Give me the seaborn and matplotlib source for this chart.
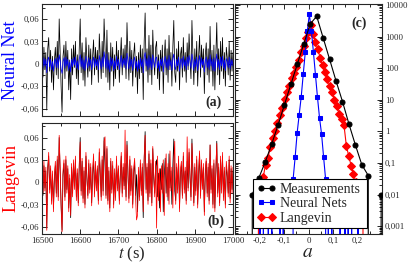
import numpy as np
import matplotlib
matplotlib.use('Agg')
import matplotlib.pyplot as plt
import seaborn as sns
from matplotlib.ticker import FixedLocator, FixedFormatter, MultipleLocator, LogLocator, NullFormatter

sns.set_style('ticks')
plt.rcParams['font.family'] = ['Liberation Serif', 'DejaVu Serif']
plt.rcParams['mathtext.fontset'] = 'stix'

# ---------------- data ----------------
t_start, t_end = 16500, 17000

meas_series = [
    0.012, -0.018, 0.022, -0.008, 0.015, -0.062, 0.02, 0.035, -0.01, 0.018, -0.025, 0.01, -0.035, 0.005, 0.022, -0.015, 0.03, -0.02, 0.06, 0.015,
    -0.03, -0.065, 0.01, 0.025, -0.02, 0.03, -0.01, 0.018, -0.035, 0.005, -0.048, 0.02, -0.015, 0.025, -0.005, 0.03, -0.02, 0.012, -0.028, 0.02,
    0.06, -0.012, 0.028, -0.022, 0.015, -0.03, 0.035, 0.005, -0.018, 0.025, -0.01, 0.02, -0.028, 0.01, 0.032, -0.015, 0.022, -0.008, 0.018, -0.025,
    0.04, 0.01, -0.02, 0.03, -0.012, 0.06, 0.02, -0.018, 0.045, -0.025, 0.015, -0.035, 0.028, -0.01, 0.022, -0.03, 0.012, -0.02, 0.03, -0.008,
    0.018, -0.025, 0.008, 0.035, -0.015, 0.02, -0.005, 0.025, -0.02, 0.055, 0.01, -0.022, 0.03, -0.012, 0.018, -0.03, 0.012, 0.028, -0.018, 0.01,
    -0.04, 0.015, -0.02, 0.025, -0.012, 0.02, -0.048, 0.03, 0.068, -0.01, 0.02, -0.025, 0.038, -0.015, 0.025, -0.028, 0.045, 0.005, -0.015, 0.022,
    0.03, -0.02, 0.012, -0.035, 0.018, -0.01, 0.025, -0.04, 0.008, 0.032, -0.015, 0.02, -0.025, 0.038, -0.008, 0.015, -0.03, 0.022, 0.058, -0.012,
    -0.025, 0.02, -0.01, 0.03, -0.035, 0.012, 0.022, -0.018, 0.035, -0.01, 0.015, -0.025, 0.028, -0.008, 0.04, 0.005, -0.02, 0.058, 0.012, -0.028,
    0.02, -0.012, 0.03, -0.03, 0.01, 0.038, -0.018, 0.025, -0.005, 0.02, -0.04, 0.012, 0.028, -0.015, 0.02, -0.025, 0.05, -0.01, 0.018, -0.03,
    0.025, -0.035, 0.012, 0.055, -0.015, 0.02, -0.028, 0.03, -0.01, 0.035, -0.02, 0.015, -0.03, 0.022, 0.008, -0.015, 0.03, -0.022, 0.018, -0.01,
    0.015]

nn_series = [
    0.004, -0.006, 0.008, -0.003, 0.006, -0.012, 0.005, 0.009, -0.004, 0.006, -0.008, 0.003, -0.01, 0.002, 0.007, -0.005, 0.008, -0.006, 0.012, 0.004,
    -0.007, -0.013, 0.003, 0.008, -0.006, 0.009, -0.003, 0.006, -0.009, 0.002, -0.011, 0.006, -0.004, 0.008, -0.002, 0.009, -0.006, 0.004, -0.008, 0.006,
    0.012, -0.004, 0.008, -0.007, 0.005, -0.009, 0.01, 0.002, -0.006, 0.008, -0.003, 0.006, -0.008, 0.003, 0.009, -0.005, 0.007, -0.003, 0.006, -0.008,
    0.011, 0.003, -0.007, 0.009, -0.004, 0.016, 0.006, -0.006, 0.013, -0.008, 0.005, -0.011, 0.009, -0.003, 0.007, -0.009, 0.004, -0.007, 0.01, -0.003,
    0.006, -0.008, 0.003, 0.011, -0.005, 0.007, -0.002, 0.008, -0.007, 0.014, 0.003, -0.007, 0.009, -0.004, 0.006, -0.009, 0.004, 0.009, -0.006, 0.003,
    -0.01, 0.005, -0.007, 0.008, -0.004, 0.006, -0.012, 0.009, 0.015, -0.003, 0.007, -0.008, 0.011, -0.005, 0.008, -0.008, 0.012, 0.002, -0.005, 0.007,
    0.009, -0.006, 0.004, -0.01, 0.006, -0.003, 0.008, -0.011, 0.003, 0.01, -0.005, 0.006, -0.008, 0.011, -0.003, 0.005, -0.009, 0.007, 0.013, -0.004,
    -0.008, 0.006, -0.003, 0.009, -0.01, 0.004, 0.007, -0.006, 0.01, -0.003, 0.005, -0.008, 0.009, -0.003, 0.011, 0.002, -0.006, 0.013, 0.004, -0.009,
    0.006, -0.004, 0.009, -0.009, 0.003, 0.011, -0.006, 0.008, -0.002, 0.006, -0.011, 0.004, 0.009, -0.005, 0.006, -0.008, 0.012, -0.003, 0.006, -0.009,
    0.008, -0.01, 0.004, 0.013, -0.005, 0.006, -0.008, 0.009, -0.003, 0.01, -0.006, 0.005, -0.009, 0.007, 0.003, -0.005, 0.009, -0.007, 0.006, -0.003,
    0.005]

lang_series = [
    0.018, -0.015, 0.028, -0.012, 0.02, -0.065, 0.015, 0.04, -0.015, 0.022, -0.03, 0.015, -0.04, 0.01, 0.028, -0.02, 0.035, -0.025, 0.063, 0.02,
    -0.035, -0.067, 0.015, 0.03, -0.025, 0.035, -0.015, 0.022, -0.04, 0.01, -0.045, 0.025, -0.02, 0.03, -0.01, 0.035, -0.025, 0.018, -0.032, 0.025,
    0.054, -0.018, 0.032, -0.028, 0.02, -0.035, 0.04, 0.01, -0.022, 0.03, -0.015, 0.025, -0.032, 0.015, 0.038, -0.02, 0.028, -0.012, 0.022, -0.03,
    0.045, 0.015, -0.025, 0.035, -0.018, 0.055, 0.061, -0.022, 0.048, -0.03, 0.02, -0.04, 0.032, -0.015, 0.028, -0.035, 0.018, -0.025, 0.035, -0.012,
    0.022, -0.03, 0.012, 0.04, -0.02, 0.025, -0.01, 0.07, -0.025, 0.05, 0.015, -0.028, 0.035, -0.018, 0.022, -0.035, 0.018, 0.032, -0.022, -0.051,
    -0.045, 0.02, -0.025, 0.03, -0.018, 0.025, -0.04, 0.035, 0.063, -0.015, 0.025, -0.03, 0.042, -0.02, 0.03, -0.032, 0.048, 0.01, -0.02, 0.028,
    -0.062, 0.035, -0.025, 0.018, -0.04, 0.022, -0.015, 0.03, -0.045, 0.012, 0.038, -0.02, 0.025, -0.03, 0.042, -0.012, 0.02, -0.035, 0.028, 0.055,
    -0.03, 0.025, -0.015, 0.035, -0.04, 0.018, 0.028, -0.022, 0.04, -0.015, 0.02, -0.03, 0.061, -0.012, 0.045, 0.01, -0.025, 0.052, 0.018, -0.032,
    0.025, -0.018, 0.035, -0.035, 0.015, 0.042, -0.022, 0.03, -0.01, 0.025, -0.045, 0.018, 0.032, -0.02, 0.025, -0.03, 0.05, -0.015, 0.022, -0.035,
    0.03, -0.04, 0.018, 0.052, -0.02, 0.025, -0.032, 0.035, -0.015, 0.04, -0.025, 0.02, -0.035, 0.028, 0.012, -0.02, 0.035, -0.028, 0.022, -0.015,
    0.02]

# distributions (panel c)
meas_a = [-0.282, -0.256, -0.2295, -0.2032, -0.1769, -0.1506, -0.1243, -0.098, -0.0717,
          -0.0454, -0.0191, 0.0072, 0.0335, 0.0598, 0.0861, 0.1124, 0.1387, 0.165,
          0.1913, 0.2176, 0.2439, 0.2702, 0.2965]
meas_p = [0, 0, 0.01, 0.033, 0.106, 0.39, 1.6, 7.1, 31.6,
          138, 610, 2570, 4500, 930, 194, 40, 8.9, 1.73,
          0.375, 0.088, 0.04, 0, 0.01]

nn_a = [-0.207, -0.198, -0.191, -0.184, -0.175, -0.164, -0.157, -0.150, -0.141,
        -0.123, -0.116, -0.109, -0.103, -0.095,
        -0.0712, -0.0629, -0.0546, -0.0463, -0.038, -0.0297, -0.0214, -0.0131, -0.0048,
        0.0035, 0.0118, 0.0201, 0.0284, 0.0367, 0.045, 0.0533, 0.0616, 0.0699, 0.0782,
        0.081, 0.088, 0.095, 0.103, 0.121, 0.129, 0.137, 0.143, 0.149, 0.155, 0.162,
        0.169, 0.176, 0.184, 0.195, 0.202, 0.21]
nn_p = [0, 0.002, 0, 0.002, 0, 0.002, 0, 0.002, 0,
        0, 0.002, 0, 0.002, 0,
        0, 0.03, 0.15, 0.91, 3.4, 12.6, 66, 330, 1510,
        5300, 1500, 330, 62, 12, 2.7, 0.83, 0.155, 0.03, 0,
        0.002, 0, 0.002, 0, 0, 0.002, 0, 0, 0.002, 0, 0.002,
        0, 0.002, 0, 0, 0.002, 0]

lang_a = [-0.2141, -0.2044, -0.1947, -0.185, -0.1753, -0.1656, -0.1559, -0.1462, -0.1365,
          -0.1268, -0.1171, -0.1074, -0.0977, -0.088, -0.0783, -0.0686, -0.0589, -0.0492,
          -0.0395, -0.0298, -0.0201, -0.0104, -0.0007, 0.009, 0.0187, 0.0284, 0.0381,
          0.0478, 0.0575, 0.0672, 0.0769, 0.0866, 0.0963, 0.106, 0.1157, 0.1254, 0.1351,
          0.1448, 0.1545, 0.1642, 0.1739, 0.1836, 0.1933, 0.203, 0.2127, 0.2224, 0.232]
lang_p = [0, 0.011, 0.02, 0.035, 0.089, 0.14, 0.32, 0.63, 1.05,
          1.8, 3.3, 5.6, 11, 17.8, 27.5, 50, 72, 112,
          182, 331, 525, 890, 1410, 2340, 1260, 708, 398,
          214, 126, 76, 46, 28, 17.8, 10, 6.3, 3.55, 2.5,
          1.6, 0.35, 0.166, 0.083, 0.045, 0.025, 0.014, 0.01, 0.009, 0]

ts_xticks = [16500, 16600, 16700, 16800, 16900, 17000]
ts_yticks = [-0.06, -0.03, 0, 0.03, 0.06]
ts_ylabels = ['-0,06', '-0,03', '0', '0,03', '0,06']
pdf_xticks = [-0.2, -0.1, 0, 0.1, 0.2]
pdf_xlabels = ['-0,2', '-0,1', '0', '0,1', '0,2']
pdf_yticks = [1e-3, 1e-2, 1e-1, 1, 10, 100, 1000, 10000]
pdf_ylabels = ['0,001', '0,01', '0,1', '1', '10', '100', '1000', '10000']

# ---------------- figure ----------------
W, H = 409, 265
fig = plt.figure(figsize=(W / 100, H / 100), dpi=100)
axA = fig.add_axes([42 / W, 1 - 116 / H, 191 / W, 112 / H])
axB = fig.add_axes([42 / W, 1 - 234 / H, 191 / W, 111.3 / H])
axC = fig.add_axes([235 / W, 1 - 234 / H, 147 / W, 230 / H])

t_meas = np.linspace(t_start, t_end, len(meas_series))
t_nn = np.linspace(t_start, t_end, len(nn_series))
t_lang = np.linspace(t_start, t_end, len(lang_series))

sns.lineplot(x=t_meas, y=meas_series, ax=axA, color='black', linewidth=0.55,
             estimator=None, sort=False)
sns.lineplot(x=t_nn, y=nn_series, ax=axA, color='#0000ff', linewidth=0.55,
             estimator=None, sort=False)
sns.lineplot(x=t_meas, y=meas_series, ax=axB, color='black', linewidth=0.55,
             estimator=None, sort=False)
sns.lineplot(x=t_lang, y=lang_series, ax=axB, color='#ff0000', linewidth=0.55,
             estimator=None, sort=False)

for ax in (axA, axB):
    ax.set_xlim(t_start, t_end)
    ax.set_ylim(-0.07, 0.08)
    ax.xaxis.set_major_locator(FixedLocator(ts_xticks))
    ax.xaxis.set_minor_locator(MultipleLocator(50))
    ax.yaxis.set_major_locator(FixedLocator(ts_yticks))
    ax.yaxis.set_major_formatter(FixedFormatter(ts_ylabels))
    ax.yaxis.set_minor_locator(MultipleLocator(0.015))
    ax.tick_params(which='both', direction='in', top=True, right=True, width=0.7,
                   labelsize=6.3, pad=2)
    ax.tick_params(which='major', length=3.5)
    ax.tick_params(which='minor', length=2)
    for s in ax.spines.values():
        s.set_linewidth(0.8)

axA.tick_params(labelbottom=False)
axA.set_xlabel('')
axB.set_xticklabels([str(v) for v in ts_xticks])

axA.set_ylabel('Neural Net', color='#0000ff', fontsize=13)
axA.yaxis.set_label_coords(-0.12, 0.5)
axB.set_ylabel('Langevin', color='#ff0000', fontsize=13)
axB.yaxis.set_label_coords(-0.12, 0.5)
axB.set_xlabel(r'$t$ (s)', fontsize=12)
axB.xaxis.set_label_coords(0.47, -0.1)

axA.text(0.9, 0.125, '(a)', transform=axA.transAxes, fontsize=10, fontweight='bold',
         ha='center', va='center')
axB.text(0.91, 0.11, '(b)', transform=axB.transAxes, fontsize=10, fontweight='bold',
         ha='center', va='center')

# panel c
sns.lineplot(x=meas_a, y=meas_p, ax=axC, color='black', linewidth=0.8, marker='o',
             markersize=3.6, markeredgecolor='black', estimator=None, sort=False,
             label='Measurements', zorder=4)
sns.lineplot(x=nn_a, y=nn_p, ax=axC, color='#0000ff', linewidth=0.8, marker='s',
             markersize=3, markeredgecolor='#0000ff', estimator=None, sort=False,
             label='Neural Nets', zorder=3)
sns.lineplot(x=lang_a, y=lang_p, ax=axC, color='#ff0000', linewidth=0.8, marker='D',
             markersize=4, markeredgecolor='#ff0000', estimator=None, sort=False,
             label='Langevin', zorder=2)

axC.set_yscale('log')
axC.set_xlim(-0.3, 0.3)
axC.set_ylim(5.6e-4, 1.1e4)
axC.xaxis.set_major_locator(FixedLocator(pdf_xticks))
axC.xaxis.set_major_formatter(FixedFormatter(pdf_xlabels))
axC.xaxis.set_minor_locator(MultipleLocator(0.05))
axC.yaxis.set_major_locator(FixedLocator(pdf_yticks))
axC.yaxis.set_major_formatter(FixedFormatter(pdf_ylabels))
axC.yaxis.set_minor_locator(LogLocator(base=10, subs=np.arange(2, 10), numticks=100))
axC.yaxis.set_minor_formatter(NullFormatter())
axC.tick_params(which='both', direction='in', top=True, right=True, left=True,
                labelleft=False, labelright=True, width=0.7, labelsize=6.3, pad=2)
axC.tick_params(which='major', length=3.5)
axC.tick_params(which='minor', length=2)
for s in axC.spines.values():
    s.set_linewidth(0.8)
axC.set_ylabel('')
axC.set_xlabel(r'$a$', fontsize=14)
axC.xaxis.set_label_coords(0.497, -0.045)
axC.text(0.844, 0.917, '(c)', transform=axC.transAxes, fontsize=10, fontweight='bold',
         ha='center', va='center')

handles, labels = axC.get_legend_handles_labels()
leg = axC.legend(handles, labels, loc='lower left',
                 bbox_to_anchor=(0.122, 0.026, 0.776, 0.239), mode='expand',
                 numpoints=2, fontsize=10, frameon=True, fancybox=False,
                 edgecolor='black', framealpha=1, borderpad=0.25, labelspacing=0.1,
                 handlelength=1.4, handletextpad=0.3, borderaxespad=0)
leg.get_frame().set_linewidth(0.8)

fig.savefig('out.png', dpi=100)
